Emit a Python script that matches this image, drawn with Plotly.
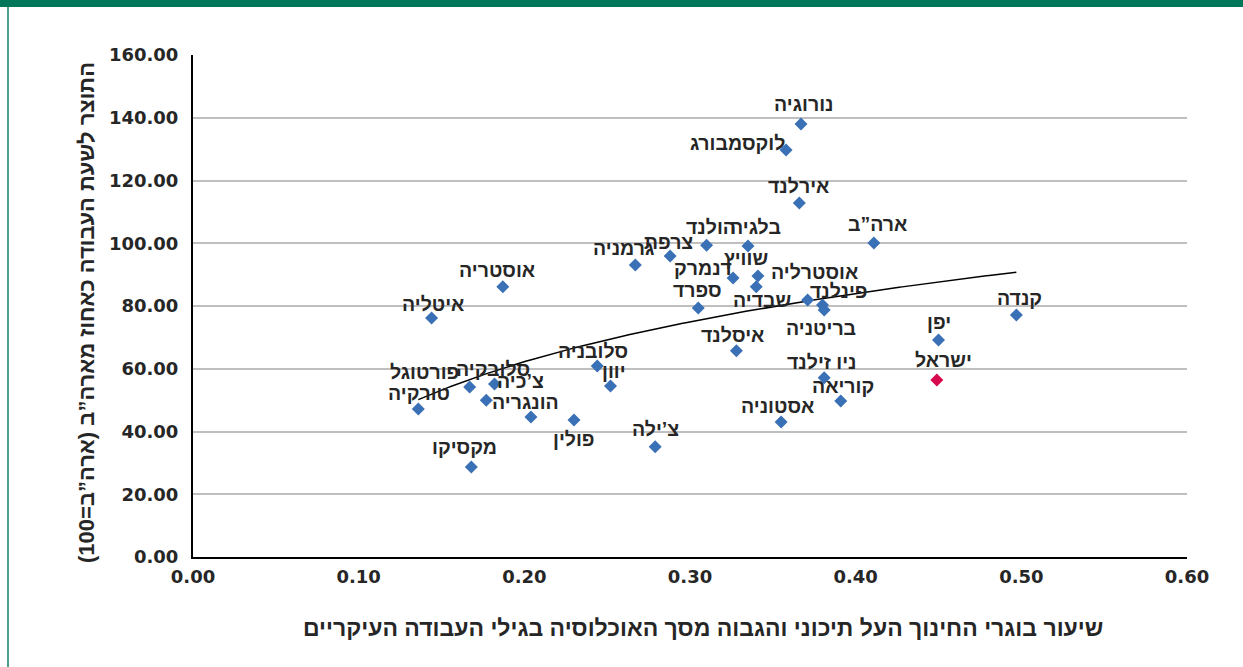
import numpy as np
import plotly.graph_objects as go

# ---------------- data ----------------
countries = ["נורוגיה", "לוקסמבורג", "אירלנד", "ארה”ב", "הולנד", "בלגיה", "צרפת", "גרמניה",
             "שוויץ", "דנמרק", "שבדיה", "אוסטריה", "אוסטרליה", "פינלנד", "בריטניה", "ספרד",
             "קנדה", "איטליה", "יפן", "איסלנד", "סלובניה", "ניו זילנד", "יוון", "פורטוגל",
             "סלובקיה", "צ’כיה", "קוריאה", "טורקיה", "הונגריה", "פולין", "אסטוניה", "צ’ילה", "מקסיקו"]
education = [0.367, 0.358, 0.366, 0.411, 0.310, 0.335, 0.288, 0.267,
             0.341, 0.326, 0.340, 0.187, 0.371, 0.380, 0.381, 0.305,
             0.497, 0.144, 0.450, 0.328, 0.244, 0.381, 0.252, 0.167,
             0.182, 0.177, 0.391, 0.136, 0.204, 0.230, 0.355, 0.279, 0.168]
productivity = [138.0, 129.7, 112.8, 100.1, 99.4, 99.1, 95.9, 93.1,
                89.6, 88.9, 86.1, 86.1, 81.9, 80.3, 78.7, 79.4,
                77.1, 76.2, 69.2, 65.7, 60.9, 57.1, 54.5, 54.2,
                55.1, 50.0, 49.7, 47.2, 44.6, 43.7, 43.0, 35.1, 28.7]

israel_name = "ישראל"
israel_education = [0.449]
israel_productivity = [56.4]

x_ticks = [0.0, 0.1, 0.2, 0.3, 0.4, 0.5, 0.6]
y_ticks = [0, 20, 40, 60, 80, 100, 120, 140, 160]

x_title = "שיעור בוגרי החינוך העל תיכוני והגבוה מסך האוכלוסיה בגילי העבודה העיקריים"
y_title = "התוצר לשעת העבודה כאחוז מארה”ב (ארה”ב=100)"

# ---------------- label placement (screen-pixel offsets) ----------------
label_offsets = {
    "נורוגיה": (2, -20), "לוקסמבורג": (-49, -7), "אירלנד": (-1, -17), "ארה”ב": (4, -19),
    "הולנד": (4, -18), "בלגיה": (8, -19), "צרפת": (-2, -14), "גרמניה": (-12, -17),
    "שוויץ": (-12, -18), "דנמרק": (-30, -10), "שבדיה": (6, 13), "אוסטריה": (-6, -17),
    "אוסטרליה": (7, -28), "פינלנד": (16, -14), "בריטניה": (-3, 18), "ספרד": (-1, -18),
    "קנדה": (3, -17), "איטליה": (1, -14), "יפן": (0, -18), "איסלנד": (-4, -16),
    "סלובניה": (-4, -15), "ניו זילנד": (-2, -16), "יוון": (4, -15), "פורטוגל": (-45, -15),
    "סלובקיה": (-2, -15), "צ’כיה": (34, -19), "קוריאה": (2, -15), "טורקיה": (1, -16),
    "הונגריה": (-5, -15), "פולין": (0, 19), "אסטוניה": (-4, -16), "צ’ילה": (0, -18),
    "מקסיקו": (-7, -20), "ישראל": (7, -20),
}

# ---------------- geometry ----------------
W, H = 1243, 667
ML, MR, MT, MB = 193, 56, 55, 110
PW, PH = W - ML - MR, H - MT - MB


def paper_x(px):
    return (px - ML) / PW


def paper_y(py):
    return (H - MB - py) / PH


RTL = lambda s: "\u202b" + s + "\u202c"

BLUE = "#3A70B5"
RED = "#D9094E"
TXT = "#262626"
LABEL_FONT = "Liberation Sans, Arial, DejaVu Sans, sans-serif"
TICK_FONT = "DejaVu Sans, Verdana, sans-serif"

fig = go.Figure()

# logarithmic trend line fitted to all points
all_x = np.array(education + israel_education)
all_y = np.array(productivity + israel_productivity)
b, a = np.polyfit(np.log(all_x), all_y, 1)
tx = np.linspace(all_x.min(), all_x.max(), 200)
fig.add_trace(go.Scatter(x=tx, y=a + b * np.log(tx), mode="lines",
                         line=dict(color="black", width=1.5), hoverinfo="skip",
                         showlegend=False))

fig.add_trace(go.Scatter(x=education, y=productivity, mode="markers",
                         marker=dict(symbol="diamond", size=10, color=BLUE, line=dict(width=0)),
                         text=countries, showlegend=False))
fig.add_trace(go.Scatter(x=israel_education, y=israel_productivity, mode="markers",
                         marker=dict(symbol="diamond", size=10, color=RED, line=dict(width=0)),
                         text=[israel_name], showlegend=False))

annotations = []
for name, xv, yv in list(zip(countries, education, productivity)) + [(israel_name, israel_education[0], israel_productivity[0])]:
    dx, dy = label_offsets[name]
    annotations.append(dict(x=xv, y=yv, xref="x", yref="y", text=name, showarrow=False,
                            xshift=dx, yshift=-dy, xanchor="center", yanchor="middle",
                            font=dict(family=LABEL_FONT, size=19.5, color=TXT, weight="bold")))

annotations.append(dict(x=paper_x(703), y=paper_y(628), xref="paper", yref="paper",
                        xanchor="center", yanchor="middle",
                        text=RTL(x_title), showarrow=False,
                        font=dict(family=LABEL_FONT, size=23, color=TXT, weight="bold")))
annotations.append(dict(x=paper_x(86), y=paper_y(313), xref="paper", yref="paper",
                        xanchor="center", yanchor="middle",
                        text=RTL(y_title), showarrow=False, textangle=-90,
                        font=dict(family=LABEL_FONT, size=22, color=TXT, weight="bold")))

shapes = [
    dict(type="rect", xref="paper", yref="paper", x0=paper_x(-2), x1=paper_x(W + 2),
         y0=paper_y(-2), y1=paper_y(7), fillcolor="#00775A", line=dict(width=0), layer="above"),
    dict(type="line", xref="paper", yref="paper", x0=paper_x(8), x1=paper_x(8),
         y0=paper_y(7), y1=paper_y(H + 2), line=dict(color="#4AA08C", width=2)),
]

fig.update_layout(
    width=W, height=H,
    margin=dict(l=ML, r=MR, t=MT, b=MB, pad=0),
    paper_bgcolor="white", plot_bgcolor="white",
    showlegend=False,
    annotations=annotations,
    shapes=shapes,
    xaxis=dict(range=[0, 0.6], tickvals=x_ticks, tickformat=".2f",
               showgrid=False, zeroline=False, showline=True, linecolor="black", linewidth=2,
               ticks="", ticklabelstandoff=2,
               tickfont=dict(family=TICK_FONT, size=18, color=TXT, weight="bold")),
    yaxis=dict(range=[0, 160], tickvals=y_ticks, tickformat=".2f",
               showgrid=True, gridcolor="#BFBFBF", gridwidth=2, zeroline=False,
               showline=True, linecolor="black", linewidth=2,
               ticks="", ticklabelstandoff=9,
               tickfont=dict(family=TICK_FONT, size=18, color=TXT, weight="bold")),
)

fig.write_html("out.html", config={"displayModeBar": False},
               post_script="document.body.style.margin='0';document.body.style.overflow='hidden';")
